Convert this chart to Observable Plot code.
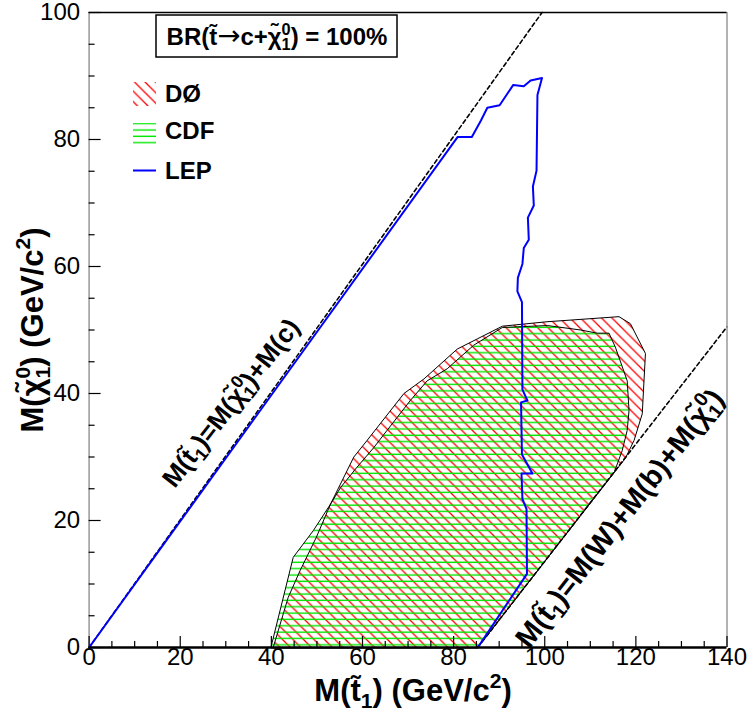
<!DOCTYPE html>
<html><head><meta charset="utf-8">
<script src="https://cdn.jsdelivr.net/npm/d3@7"></script>
<script src="https://cdn.jsdelivr.net/npm/@observablehq/plot@0.6"></script>
<style>
body{margin:0;background:#fff;}
#chart{position:relative;width:747px;height:723px;}
</style>
</head><body>
<svg width="0" height="0" style="position:absolute">
 <defs>
  <pattern id="hatchD0" patternUnits="userSpaceOnUse" width="10.5" height="10.5">
   <path d="M-1,-1 L11.5,11.5 M-1,9.5 L1,11.5 M9.5,-1 L11.5,1" stroke="#ff0000" stroke-width="1.3" fill="none"/>
  </pattern>
  <pattern id="hatchCDF" patternUnits="userSpaceOnUse" width="20" height="6.35">
   <line x1="0" y1="3" x2="20" y2="3" stroke="#00e600" stroke-width="1.4"/>
  </pattern>
 </defs>
</svg>
<div id="chart"></div>
<script>
// ---- tick values ----
const xMajor = [0, 20, 40, 60, 80, 100, 120, 140];
const xMinor = [5, 10, 15, 25, 30, 35, 45, 50, 55, 65, 70, 75, 85, 90, 95, 105, 110, 115, 125, 130, 135];
const yMajor = [0, 20, 40, 60, 80, 100];
const yMinor = [5, 10, 15, 25, 30, 35, 45, 50, 55, 65, 70, 75, 85, 90, 95];

// ---- D0 excluded region ----
const d0X = [40.4, 43.7, 46.3, 49.9, 53.0, 58.1, 61.0, 69.1, 73.5, 80.8, 85.2, 90.7, 100.5, 116.3, 118.8, 122.1, 121.4, 119.6, 117.7, 85.3];
const d0Y = [0, 7.9, 12.1, 17.4, 22.6, 30.0, 32.6, 40.0, 42.3, 47.0, 48.6, 50.6, 51.3, 52.1, 51.0, 46.3, 36.8, 32.6, 29.8, 0];

// ---- CDF excluded region ----
const cdfX = [39.9, 44.8, 49.2, 53.0, 55.2, 58.8, 62.5, 65.4, 70.5, 74.2, 78.6, 84.4, 90.7, 100.6, 107.9, 111.5, 114.1, 115.5, 118.1, 118.5, 118.1, 117.0, 115.3, 85.3];
const cdfY = [0, 14.2, 18.4, 22.6, 25.2, 28.4, 31.5, 34.2, 38.9, 42.0, 43.9, 47.6, 50.4, 50.7, 50.0, 49.5, 49.5, 47.3, 42.0, 37.3, 34.2, 31.0, 27.7, 0];

// ---- LEP limit ----
const lepX = [0, 80.9, 84.0, 86.0, 87.4, 90.1, 93.1, 95.4, 96.9, 99.4, 98.4, 98.2, 97.4, 97.6, 96.3, 96.5, 95.4, 95.1, 94.1, 94.0, 95.0, 95.1, 96.2, 94.8, 95.0, 97.3, 94.9, 95.1, 96.0, 96.1, 85.3];
const lepY = [0, 80.4, 80.4, 83.0, 85.0, 85.4, 88.6, 88.4, 89.3, 89.7, 87.0, 75.1, 72.6, 69.6, 67.7, 64.2, 62.9, 60.4, 58.2, 56.1, 54.4, 40.6, 38.9, 38.6, 30.4, 27.4, 27.4, 23.4, 21.8, 11.6, 0];

// ---- kinematic limits ----
const kin1X = [0, 99.4];
const kin1Y = [0, 100];
const kin2X = [85.3, 140];
const kin2Y = [0, 50.5];

// ---- labels ----
const xTitle = "M(t\u0303{_1}) (GeV/c{^2})";
const yTitle = "M(\u03C7\u0303{^0_1}) (GeV/c{^2})";
const kin1Label = ["M(t\u0303{_1})=M(\u03C7\u0303{^0_1})+M(c)"];
const kin1LabelPos = [{x: 31.2, y: 38.5}];
const kin2Label = ["M(t\u0303{_1})=M(W)+M(b)+M(\u03C7\u0303{^0_1})"];
const kin2LabelPos = [{x: 116.5, y: 20.3}];
const boxTitle = "BR(t\u0303{!\u2192}c+\u03C7\u0303{^0_1}) = 100%";
const legendNames = ["D\u00D8", "CDF", "LEP"];

const pts = (xs, ys) => xs.map((x, i) => ({x, y: ys[i]}));
const d0 = pts(d0X, d0Y), cdf = pts(cdfX, cdfY), lep = pts(lepX, lepY);
const kin1 = pts(kin1X, kin1Y), kin2 = pts(kin2X, kin2Y);

const W = 747, H = 723, mL = 88.6, mR = 20.5, mT = 12, mB = 76;
const fw = W - mL - mR, fh = H - mT - mB;
const bold = "Liberation Sans, Arial, Helvetica, sans-serif";

const plot = Plot.plot({
  width: W, height: H,
  marginLeft: mL, marginRight: mR, marginTop: mT, marginBottom: mB,
  x: {domain: [0, 140], axis: null},
  y: {domain: [0, 100], axis: null},
  style: {fontFamily: "Liberation Sans, Arial, sans-serif", fontSize: "24px", background: "white", color: "black", overflow: "visible"},
  marks: [
    Plot.line(d0, {x: "x", y: "y", fill: "url(#hatchD0)", stroke: "none"}),
    Plot.line(cdf, {x: "x", y: "y", fill: "url(#hatchCDF)", stroke: "none"}),
    Plot.line(d0, {x: "x", y: "y", stroke: "black", strokeWidth: 1, curve: "linear-closed"}),
    Plot.line(cdf, {x: "x", y: "y", stroke: "black", strokeWidth: 1, curve: "linear-closed"}),
    Plot.line(kin1, {x: "x", y: "y", stroke: "black", strokeWidth: 1.6, strokeDasharray: "4,3"}),
    Plot.line(kin2, {x: "x", y: "y", stroke: "black", strokeWidth: 1.6, strokeDasharray: "4,3"}),
    Plot.line(lep, {x: "x", y: "y", stroke: "#0000ff", strokeWidth: 2}),
    // frame
    Plot.ruleX([0], {stroke: "#999", strokeWidth: 1.5}),
    Plot.ruleX([140], {stroke: "#999", strokeWidth: 1.5}),
    Plot.ruleY([100], {stroke: "black", strokeWidth: 1.5}),
    Plot.ruleY([0], {stroke: "black", strokeWidth: 2.5}),
    // inward ticks
    Plot.tickX(xMajor, {x: d => d, insetTop: fh - 11, stroke: "black", strokeWidth: 1.2}),
    Plot.tickX(xMinor, {x: d => d, insetTop: fh - 6, stroke: "black", strokeWidth: 1.2}),
    Plot.tickY(yMajor, {y: d => d, insetRight: fw - 12, stroke: "black", strokeWidth: 1.2}),
    Plot.tickY(yMinor, {y: d => d, insetRight: fw - 6, stroke: "black", strokeWidth: 1.2}),
    // tick labels
    Plot.text(xMajor, {x: d => d, frameAnchor: "bottom", dy: 17, text: d => String(d), fontSize: 24}),
    Plot.text(yMajor, {y: d => d, frameAnchor: "left", dx: -9, textAnchor: "end", text: d => String(d), fontSize: 24}),
    // axis titles
    Plot.text([xTitle], {frameAnchor: "bottom", textAnchor: "middle", lineAnchor: "middle", dx: 5, dy: 44, fontSize: 31, fontWeight: "bold", fontFamily: bold}),
    Plot.text([yTitle], {frameAnchor: "left", textAnchor: "middle", lineAnchor: "middle", dx: -56, dy: 0, rotate: -90, fontSize: 31, fontWeight: "bold", fontFamily: bold}),
    // diagonal labels
    Plot.text(kin1LabelPos, {x: "x", y: "y", text: (d, i) => kin1Label[i], rotate: -52, fontSize: 26, fontWeight: "bold", fontFamily: bold}),
    Plot.text(kin2LabelPos, {x: "x", y: "y", text: (d, i) => kin2Label[i], rotate: -52, fontSize: 29, fontWeight: "bold", fontFamily: bold})
  ]
});
document.getElementById("chart").appendChild(plot);

// ---- legend and title box ----
const svg = d3.select(plot);
const g = svg.append("g").attr("font-family", bold).attr("font-weight", "bold").attr("font-size", 24).attr("text-anchor", "start");
g.append("rect").attr("x", 156).attr("y", 15).attr("width", 241).attr("height", 42)
  .attr("fill", "white").attr("stroke", "black").attr("stroke-width", 1.5);
g.append("text").attr("x", 277).attr("y", 45).attr("text-anchor", "middle").text(boxTitle);
g.append("rect").attr("x", 133).attr("y", 82).attr("width", 23).attr("height", 24).attr("fill", "url(#hatchD0)");
g.append("text").attr("x", 165).attr("y", 102).text(legendNames[0]);
g.append("rect").attr("x", 133).attr("y", 123).attr("width", 23).attr("height", 21).attr("fill", "url(#hatchCDF)");
g.append("text").attr("x", 165).attr("y", 139).text(legendNames[1]);
g.append("line").attr("x1", 133).attr("x2", 156).attr("y1", 170.5).attr("y2", 170.5).attr("stroke", "#0000ff").attr("stroke-width", 2);
g.append("text").attr("x", 165).attr("y", 179).text(legendNames[2]);

// ---- rich text: sub/superscripts ----
function rich(el) {
  const s = el.textContent;
  if (!s.includes("{")) return;
  const F = parseFloat(getComputedStyle(el).fontSize);
  el.textContent = "";
  const ns = "http://www.w3.org/2000/svg";
  let pend = 0;
  const add = (str, size, dy, dx, fam) => {
    const t = document.createElementNS(ns, "tspan");
    t.textContent = str;
    t.setAttribute("font-size", size);
    if (dy) t.setAttribute("dy", dy);
    if (dx) t.setAttribute("dx", dx);
    if (fam) { t.setAttribute("font-family", fam); t.setAttribute("font-weight", "normal"); }
    el.appendChild(t);
  };
  const re = /\{([^}]*)\}/g;
  let last = 0, m;
  const S = 0.68 * F;
  while ((m = re.exec(s))) {
    if (m.index > last) { add(s.slice(last, m.index), F, pend); pend = 0; }
    const c = m[1];
    if (c.startsWith("!")) {
      add(c.slice(1), F * 1.15, pend, 0, "DejaVu Sans"); pend = 0;
    } else {
      const sup = c.match(/\^([^_]*)/), sub = c.match(/_(.*)$/);
      if (sup && sub) {
        add(sup[1], S, pend - 0.42 * F);
        add(sub[1], S, 0.64 * F, -0.556 * S * sup[1].length);
        pend = -0.22 * F;
      } else if (sup) {
        add(sup[1], S, pend - 0.42 * F); pend = 0.42 * F;
      } else if (sub) {
        add(sub[1], S, pend + 0.22 * F); pend = -0.22 * F;
      }
    }
    last = re.lastIndex;
  }
  if (last < s.length) add(s.slice(last), F, pend);
}
plot.querySelectorAll("text").forEach(rich);
</script>
</body></html>
